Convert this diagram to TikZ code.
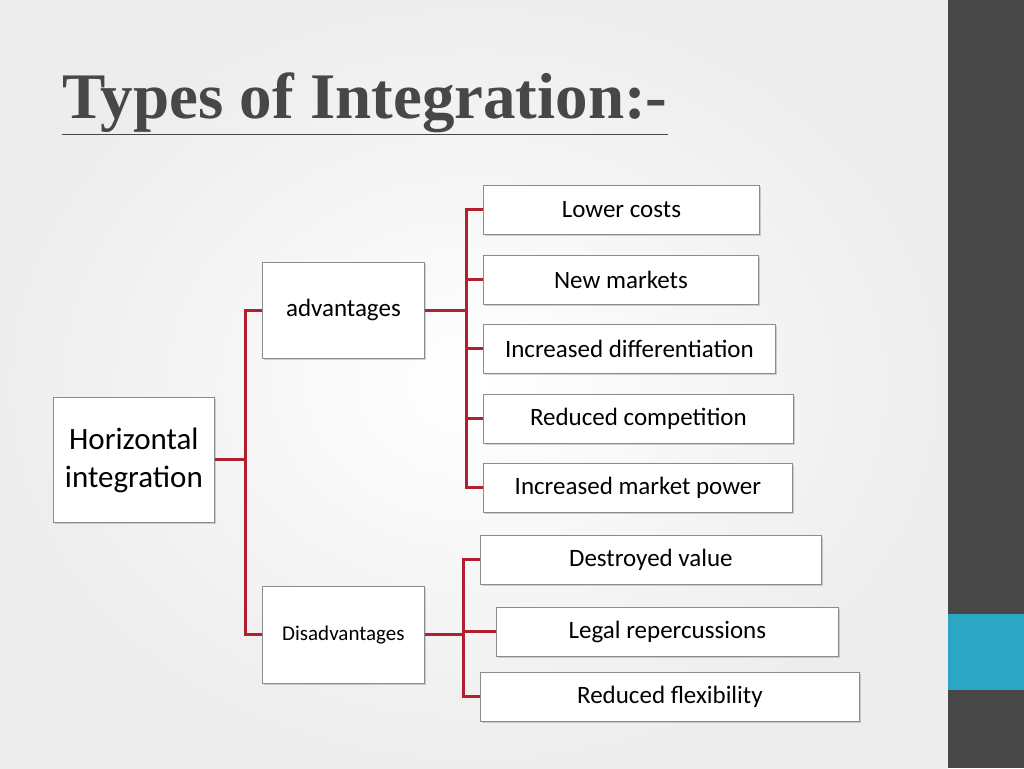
\documentclass[tikz,border=0pt]{standalone}
\usepackage{fontspec}
\setmainfont{Carlito}
\newfontfamily\titlefont{Liberation Serif}
\definecolor{linkred}{HTML}{B0202E}
\definecolor{slate}{HTML}{474747}
\definecolor{barblue}{HTML}{2BA6C5}
\usetikzlibrary{shadows}

\begin{document}
\begin{tikzpicture}[
    x=1pt, y=-1pt,
    item/.style={draw=black!45, fill=white, line width=0.8pt, minimum height=49pt,
      font=\fontsize{25}{27}\selectfont, anchor=north west, inner sep=0pt,
      drop shadow={shadow xshift=1.5pt, shadow yshift=-1.5pt, opacity=0.35}},
    group/.style={item, align=center},
    link/.style={draw=linkred, line width=3pt}
  ]
  \useasboundingbox (0,0) rectangle (1024,768);
  \shade[inner color=white, outer color=black!7] (0,0) rectangle (948,768);
  \fill[slate] (948,0) rectangle (1024,768);
  \fill[barblue] (948,614) rectangle (1024,690);
  \node[anchor=base west, text=slate, inner sep=0pt,
    font=\titlefont\bfseries\fontsize{65}{70}\selectfont] (title) at (62,118)
    {\underline{Types of Integration:-}};
  % groups
  \node[group, minimum width=161pt, minimum height=125pt, font=\fontsize{31}{38}\selectfont]
    (horiz) at (53,397) {Horizontal\\integration};
  \node[group, minimum width=162pt, minimum height=96pt] (adv) at (262,262) {advantages};
  \node[group, minimum width=162pt, minimum height=97pt, font=\fontsize{21}{24}\selectfont]
    (dis) at (262,586) {Disadvantages};
  % advantages
  \node[item, minimum width=276pt] (lower) at (483,185) {Lower costs};
  \node[item, minimum width=275pt] (markets) at (483,255) {New markets};
  \node[item, minimum width=292pt] (diff) at (483,324) {Increased differentiation};
  \node[item, minimum width=310pt] (compet) at (483,394) {Reduced competition};
  \node[item, minimum width=309pt] (power) at (483,463) {Increased market power};
  % disadvantages
  \node[item, minimum width=341pt] (value) at (480,535) {Destroyed value};
  \node[item, minimum width=342pt] (legal) at (496,607) {Legal repercussions};
  \node[item, minimum width=379pt] (flex) at (480,672) {Reduced flexibility};
  % connectors
  \coordinate (hbus) at (245,0);
  \coordinate (abus) at (466,0);
  \coordinate (dbus) at (463,0);
  \path[link] (horiz.east) -- (hbus |- horiz.east);
  \foreach \g in {adv, dis}
    \path[link] (hbus |- horiz.east) |- (\g.west);
  \path[link] (adv.east) -- (abus |- adv.east);
  \foreach \c in {lower, markets, diff, compet, power}
    \path[link] (abus |- adv.east) |- (\c.west);
  \path[link] (dis.east) -- (dbus |- dis.east);
  \foreach \c in {value, legal, flex}
    \path[link] (dbus |- dis.east) |- (\c.west);
\end{tikzpicture}
\end{document}
